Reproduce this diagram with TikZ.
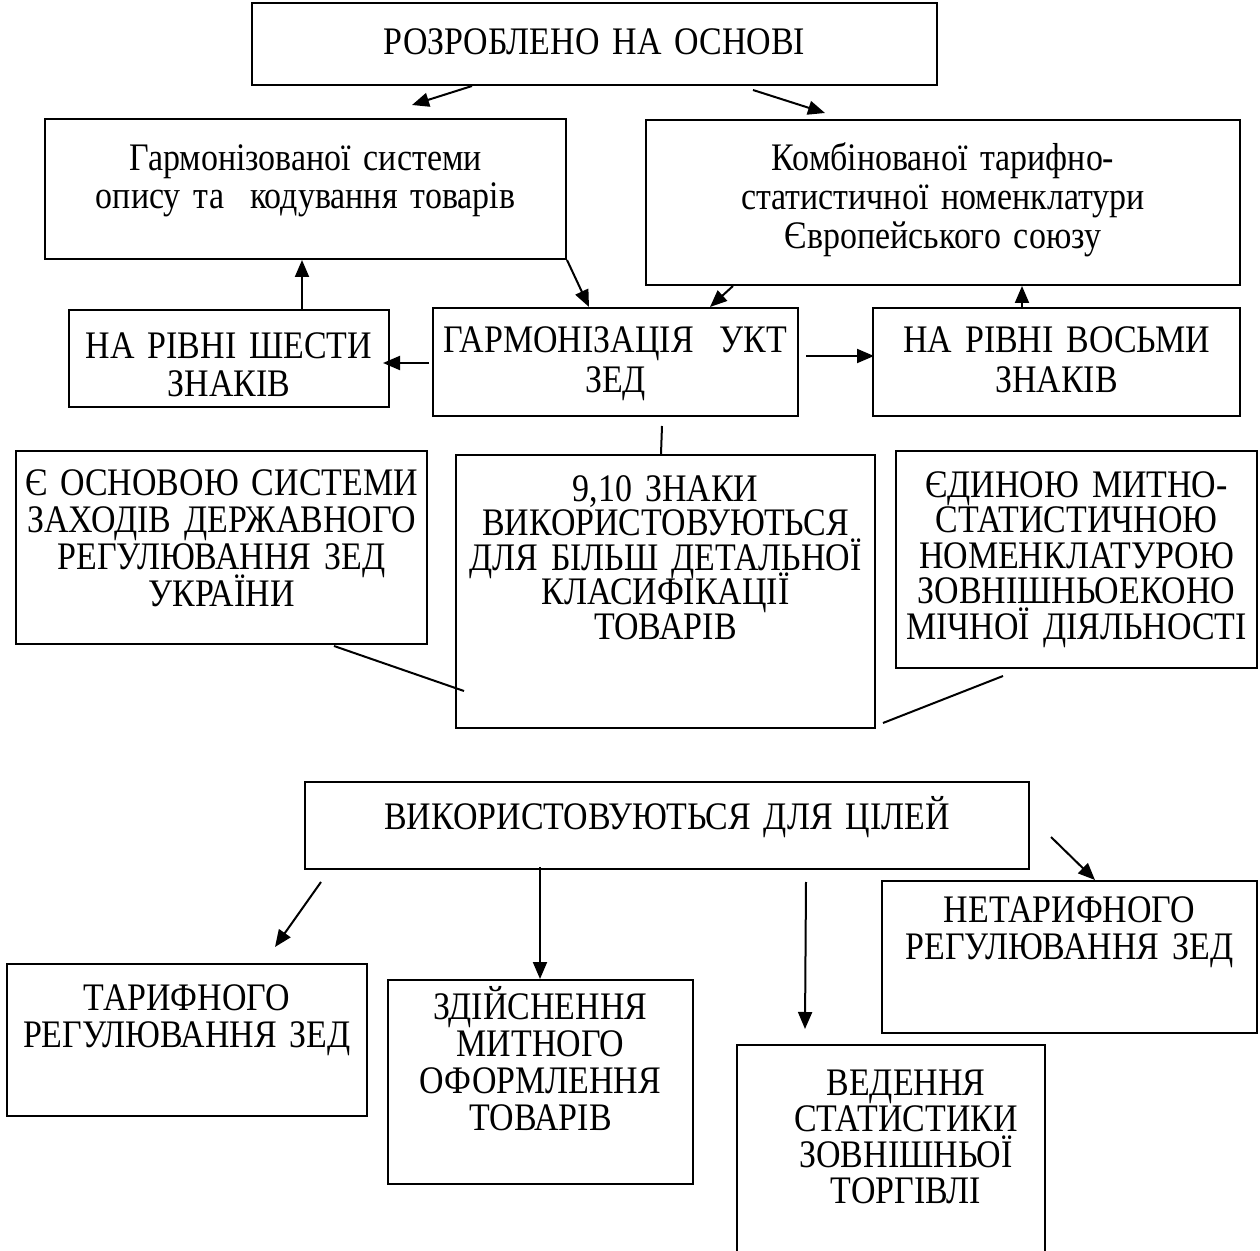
\documentclass[tikz,border=0pt]{standalone}
\usepackage{fontspec}
\setmainfont{Liberation Serif}[FakeStretch=0.87]
\usetikzlibrary{arrows.meta, calc}
\normallineskiplimit=-20pt\relax
\lineskiplimit=-20pt\relax

\begin{document}
\begin{tikzpicture}[x=0.5pt, y=-0.5pt, >={Triangle[length=8.5pt, width=7pt]},
    font=\fontsize{19.5}{18.5}\selectfont,
    box/.style={draw, line width=1pt, anchor=north, inner sep=0pt, align=center},
    link/.style={line width=1pt}]
  \useasboundingbox (0,0) rectangle (1260,1251);
  % Top
  \node[box, text width=342.5pt, text height=26pt, text depth=15pt] (rozr) at (594.5,2) {РОЗРОБЛЕНО НА ОСНОВІ};
  % Sources
  \node[box, text width=260.5pt, text height=26pt, text depth=44pt, font=\fontsize{19.5}{19}\selectfont] (harm) at (305.5,118) {Гармонізованої системи\\опису та~ кодування товарів};
  \node[box, text width=297pt, text height=25.5pt, text depth=57pt, font=\fontsize{19.5}{19.5}\selectfont] (comb) at (943,119) {Комбінованої тарифно-\\статистичної номенклатури\\Європейського союзу};
  % Middle row
  \node[box, text width=160pt, text height=24.5pt, text depth=24pt, font=\fontsize{19.5}{19}\selectfont] (shesty) at (229,309) {НА РІВНІ ШЕСТИ\\ЗНАКІВ};
  \node[box, text width=182.5pt, text height=22.5pt, text depth=31.5pt, font=\fontsize{19.5}{20}\selectfont] (garm) at (615.5,307) {ГАРМОНІЗАЦІЯ~~УКТ\\ЗЕД};
  \node[box, text width=183.5pt, text height=22.5pt, text depth=31.5pt, font=\fontsize{19.5}{20}\selectfont] (vosmy) at (1056.5,307) {НА РІВНІ ВОСЬМИ\\ЗНАКІВ};
  % Properties
  \node[box, text width=205.5pt, text height=22.25pt, text depth=74.25pt] (osnova) at (221.5,450) {Є~ОСНОВОЮ~СИСТЕМИ\\ЗАХОДІВ~ДЕРЖАВНОГО\\РЕГУЛЮВАННЯ ЗЕД\\УКРАЇНИ};
  \node[box, text width=209.5pt, text height=23.25pt, text depth=113.25pt, font=\fontsize{19.5}{17.25}\selectfont] (detail) at (665.5,454) {9,10 ЗНАКИ\\ВИКОРИСТОВУЮТЬСЯ\\ДЛЯ~БІЛЬШ~ДЕТАЛЬНОЇ\\КЛАСИФІКАЦІЇ\\ТОВАРІВ};
  \node[box, text width=180.5pt, text height=23.25pt, text depth=85.25pt, font=\fontsize{19.5}{17.75}\selectfont] (yedyna) at (1076.5,450) {ЄДИНОЮ~МИТНО-\\СТАТИСТИЧНОЮ\\НОМЕНКЛАТУРОЮ\\ЗОВНІШНЬОЕКОНО\\МІЧНОЇ~ДІЯЛЬНОСТІ};
  % Purposes
  \node[box, text width=362pt, text height=23.5pt, text depth=20pt] (cili) at (667,781) {ВИКОРИСТОВУЮТЬСЯ ДЛЯ ЦІЛЕЙ};
  \node[box, text width=180pt, text height=23pt, text depth=53pt] (tarif) at (187,963) {ТАРИФНОГО\\РЕГУЛЮВАННЯ~ЗЕД};
  \node[box, text width=152.5pt, text height=19.75pt, text depth=82.25pt] (zdiysn) at (540.5,979) {ЗДІЙСНЕННЯ\\МИТНОГО\\ОФОРМЛЕННЯ\\ТОВАРІВ};
  \node[box, text width=187.5pt, text height=20.5pt, text depth=55.5pt] (netarif) at (1069.5,880) {НЕТАРИФНОГО\\РЕГУЛЮВАННЯ~ЗЕД};
  \node[box, draw=none, text width=138pt, text height=24.5pt, text depth=78.5pt, font=\fontsize{19.5}{18}\selectfont] (veden) at (906,1045) {ВЕДЕННЯ\\СТАТИСТИКИ\\ЗОВНІШНЬОЇ\\ТОРГІВЛІ};
  \draw[link] ($(veden.south west)+(-30,0)$) -- ($(veden.north west)+(-30,0)$) -- (veden.north east) -- (veden.south east);
  % Arrows, upper part
  \draw[link, ->] ($(rozr.south)+(-122.5,0)$) -- ($(harm.north)+(106.5,-13)$);
  \draw[link, ->] ($(rozr.south)+(158.5,4)$) -- ($(comb.north)+(-118,-6)$);
  \draw[link, ->] (harm.south east) -- ($(garm.north)+(-26.5,0)$);
  \draw[link, ->] ($(comb.south west)+(88,0)$) -- ($(garm.north)+(94.5,0)$);
  \draw[link, ->] ($(garm.west)+(-3,1)$) -- ($(shesty.east)+(-7,4.5)$);
  \draw[link, ->] ($(shesty.north)+(73,0)$) -- ($(harm.south)+(-3.5,0)$);
  \draw[link, ->] ($(garm.east)+(7,-6)$) -- ($(vosmy.west)+(2,-6)$);
  \draw[link, ->] ($(vosmy.north)+(-34.5,0)$) -- ($(comb.south)+(79,0)$);
  % Plain lines
  \draw[link] ($(garm.south)+(46.5,9)$) -- ($(detail.north)+(-4.5,0)$);
  \draw[link] ($(osnova.south)+(112.5,1)$) -- ($(detail.south west)+(9,-38)$);
  \draw[link] ($(detail.south east)+(7,-6)$) -- ($(yedyna.south)+(-73.5,7)$);
  % Arrows, lower part
  \draw[link, ->] ($(cili.south west)+(17,12)$) -- ($(tarif.north)+(88,-16)$);
  \draw[link, ->] ($(cili.south)+(-127,-3)$) -- ($(zdiysn.north)+(-0.5,0)$);
  \draw[link, ->] ($(cili.south)+(139,12)$) -- ($(veden.north)+(-101,-16)$);
  \draw[link, ->] ($(cili.south east)+(21,-33)$) -- ($(netarif.north)+(25.5,0)$);
\end{tikzpicture}
\end{document}
